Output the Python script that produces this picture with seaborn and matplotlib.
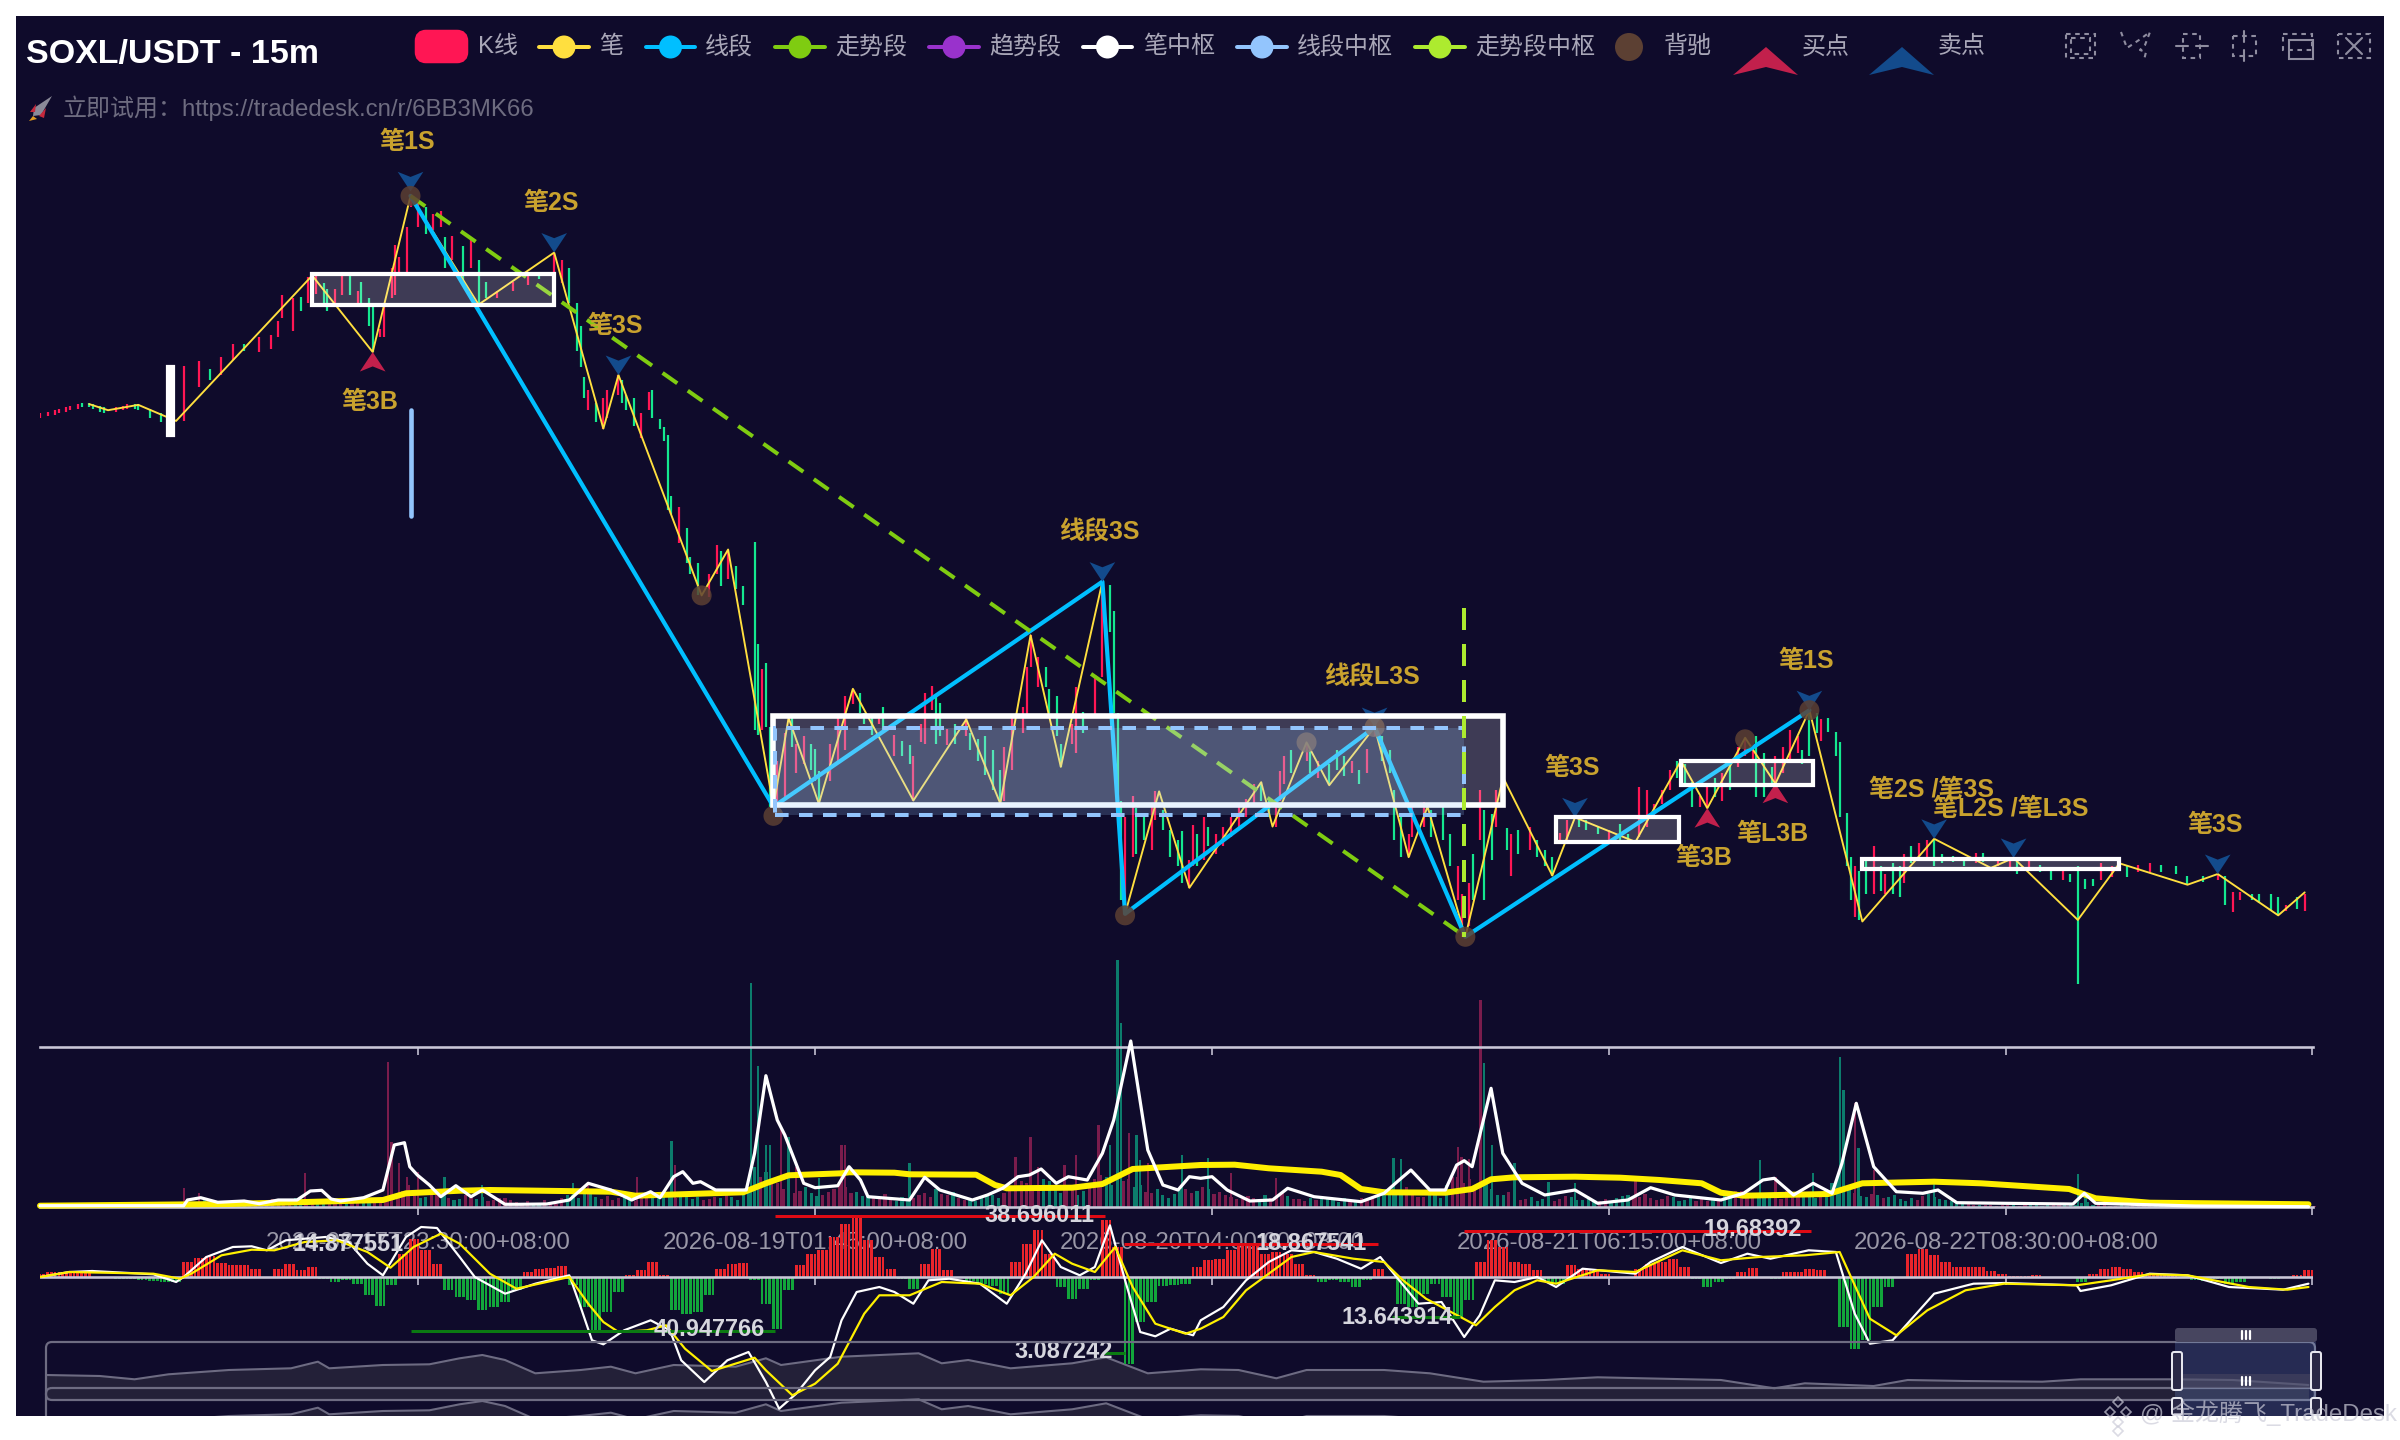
import numpy as np
import seaborn as sns
import matplotlib
matplotlib.use("Agg")
import matplotlib.pyplot as plt
from matplotlib.path import Path
from matplotlib.patches import Rectangle, Circle, Polygon, FancyBboxPatch
from matplotlib.lines import Line2D

# ---------- data ----------
title_text = "SOXL/USDT - 15m"
subtitle_text = "立即试用：https://tradedesk.cn/r/6BB3MK66"
tick_idx = [100, 205, 310, 415, 520, 601]
tick_labels = ["2026-08-17T23:30:00+08:00", "2026-08-19T01:45:00+08:00", "2026-08-20T04:00:00+08:00",
               "2026-08-21T06:15:00+08:00", "2026-08-22T08:30:00+08:00", ""]

candle_i = [0,2,4,5,7,8,10,11,13,14,16,17,20,22,23,25,26,29,32,35,38,42,45,48,51,54,58,61,
    63,64,67,69,71,73,75,76,78,80,82,84,85,87,88,90,91,93,94,95,
    97,98,100,102,104,106,107,109,112,114,116,118,121,125,129,132,136,138,140,142,
    143,144,145,147,149,150,153,154,155,157,159,161,162,164,165,166,167,169,171,172,
    174,177,179,180,182,184,186,189,190,191,192,193,195,197,199,200,202,204,205,206,
    209,211,213,215,217,218,220,222,223,226,228,230,231,233,234,236,237,238,240,242,
    245,246,248,250,252,254,255,257,260,261,262,264,266,267,269,270,273,274,276,279,
    281,283,284,285,286,287,289,290,292,294,295,297,299,301,302,304,305,306,308,309,
    311,313,315,317,319,321,323,325,327,328,329,331,335,336,338,341,343,345,347,349,
    351,353,355,357,358,360,362,363,366,368,371,373,375,376,378,379,381,382,384,385,
    387,388,389,391,394,396,398,400,402,404,407,409,412,415,418,420,423,425,427,429,
    431,433,435,437,439,441,443,445,447,449,451,453,454,456,458,459,461,463,465,466,
    468,470,471,473,475,476,478,479,480,481,483,485,487,488,490,492,493,495,497,499,
    501,503,506,509,512,514,518,521,523,526,529,532,535,537,539,541,543,545,548,550,
    552,555,558,561,565,568,572,576,578,580,582,585,587,590,592,594,597,599]
candle_low = [387,388,389,390,391,392,393,394,394,393,391,390,391,392,393,393,392,387,384,381,385,407,412,415,425,431,430,432,
    440,452,444,457,462,468,460,457,462,467,467,462,460,447,430,440,440,465,467,480,
    482,525,512,507,510,512,485,490,475,485,462,465,465,470,474,478,476,475,462,431,
    420,400,392,384,380,387,402,397,392,382,374,392,387,380,372,327,324,305,292,285,
    271,270,285,277,282,275,265,183,180,183,185,133,133,139,172,155,161,157,150,135,
    150,163,170,200,194,187,180,187,182,166,166,161,137,175,174,196,174,179,173,174,
    179,170,163,154,144,134,137,157,181,193,224,211,211,194,179,159,174,168,181,191,
    218,247,194,137,72,63,100,102,111,105,124,118,100,94,83,80,94,94,98,107,
    102,107,113,120,126,135,137,126,120,137,148,155,163,155,152,147,157,153,155,148,
    155,179,163,155,111,100,100,113,120,113,111,94,72,48,55,72,111,72,98,120,
    133,105,88,102,105,100,94,88,109,111,120,118,115,111,111,111,113,120,126,135,
    144,152,148,133,133,132,139,137,144,159,166,163,139,139,146,148,155,163,168,161,
    166,181,176,182,166,126,94,72,61,59,76,76,78,76,76,74,83,96,98,100,
    94,96,97,94,96,97,94,92,89,92,90,85,85,84,17,79,81,85,87,91,
    87,90,90,90,89,82,84,85,69,64,72,72,70,65,62,65,66,65]
candle_high = [390,391,392,393,394,395,396,397,397,396,395,394,394,395,396,396,396,393,390,388,421,424,419,427,435,435,440,441,
    450,467,465,466,479,481,475,471,471,480,481,470,476,465,460,445,460,485,500,492,
    512,532,529,525,520,522,505,506,499,505,490,476,470,476,481,482,495,490,485,462,
    447,414,405,397,400,405,415,412,402,400,390,404,405,386,381,376,336,329,315,296,
    292,285,304,300,301,290,277,306,239,223,227,185,163,181,191,174,179,174,171,156,
    174,192,205,210,207,194,192,192,198,180,176,173,166,187,207,212,205,201,184,187,
    191,181,177,179,170,157,172,193,198,224,245,231,224,210,205,174,187,211,195,219,
    280,278,261,194,137,126,140,132,128,135,143,131,118,111,117,98,121,115,126,120,
    115,120,126,133,138,148,149,137,133,156,166,170,174,170,163,161,170,166,163,157,
    171,192,179,170,144,126,115,133,136,131,134,115,94,76,83,102,144,131,128,144,
    152,119,115,118,120,111,105,100,116,124,126,124,120,118,122,115,146,144,135,144,
    157,163,161,149,140,146,152,155,161,172,178,172,179,168,159,166,172,183,179,170,
    196,194,190,191,182,175,129,100,94,91,98,107,94,89,96,94,102,107,109,111,
    112,102,101,100,103,103,100,100,98,98,95,91,91,89,94,86,86,96,94,97,
    94,95,96,95,94,88,88,89,88,77,77,76,76,76,74,69,74,76]
candle_up = [1,1,1,1,1,1,1,0,0,0,0,0,1,1,1,0,0,0,0,1,1,1,0,1,1,0,1,1,
    1,1,1,0,1,1,0,0,1,1,0,1,0,0,0,1,1,1,1,1,
    1,1,1,0,1,1,0,1,0,1,0,0,1,1,1,0,1,1,0,0,
    0,0,1,0,1,1,1,0,0,0,1,1,0,0,0,0,0,1,0,0,
    0,1,1,0,1,0,0,0,0,1,0,0,1,1,0,1,1,0,0,0,
    1,1,1,1,0,0,0,1,0,1,0,0,1,1,1,1,0,0,1,0,
    1,0,0,0,0,0,1,1,1,1,1,1,0,0,0,0,1,1,0,1,
    1,0,0,0,0,1,1,0,0,1,1,0,0,0,0,1,1,0,1,0,
    1,1,1,1,1,1,0,0,1,1,1,0,1,0,1,0,0,0,1,0,
    1,1,0,0,0,0,1,1,1,0,0,0,1,1,1,0,1,0,0,1,
    0,0,1,0,1,0,0,0,1,1,0,0,0,1,0,0,1,1,1,1,
    1,0,0,0,1,1,0,1,0,1,1,1,0,0,0,1,1,1,1,0,
    0,0,1,0,0,0,0,0,1,0,0,1,0,1,0,0,1,0,1,1,
    0,0,0,0,1,0,1,1,0,1,0,0,1,0,0,0,0,1,1,1,
    0,1,1,0,0,0,0,1,0,1,1,0,0,0,0,1,0,1]

pen_i = [13,18,26,36,72,88,98,116,136,149,153,175,182,194,198,206,215,231,245,254,262,270,281,287,296,304,
    323,326,335,341,353,362,367,377,387,400,406,422,434,441,451,459,468,482,501,516,522,539,550,568,576,592,599]
pen_p = [396,392,395.5,385,480,430,532,461,495,380,415,271,301,133,191,135,210,137,190,135,245,159,280,63,143,80,
    149,120,175,147,185,100,133,48,152,88,126,110,163,132,178,148,196,58,112,93,99.5,59,96,82,89,62,77]
seg_i = [98,194,281,287,353,377,468]
seg_p = [532,133,280,63,185,48,196]
trend_i = [98,377]
trend_p = [532,48]

sell_i = [98,136,153,281,353,406,468,501,522,576]
sell_p = [535,495,415,280,185,126,196,112,99.5,89]
sell_names = ["笔1S","笔2S","笔3S","线段3S","线段L3S","笔3S","笔1S","笔2S /笔3S","笔L2S /笔L3S","笔3S"]
buy_i = [88,441,459]
buy_p = [430,132,148]
buy_names = ["笔3B","笔3B","笔L3B"]
div_i = [98,175,194,287,335,353,377,451,468]
div_p = [532,271,127,62,175,185,48,177,196]

bi_hub_start = [33.9,72,194,401,434,482]
bi_hub_end = [35.3,136,387,433.6,469,550]
bi_hub_low = [376,461,134,110,147,92]
bi_hub_high = [420,481,192,126,163,99]
seg_hub_start = [194.3,98]
seg_hub_end = [376.6,98]
seg_hub_low = [127.4,323]
seg_hub_high = [184.4,392]
trend_hub_i = [376.6,376.6]
trend_hub_p = [263,48]

vol_peak_i = [38,42,70,92,93,95,97,100,107,117,141,145,158,167,168,188,190,192,193,196,198,200,206,212,213,230,258,262,264,271,
    274,280,283,285,286,288,290,291,293,302,309,315,327,358,360,375,376,378,381,382,384,390,399,406,422,455,459,469,476,477,480,481,485,501,539,541]
vol_peak_v = [19,14,34,145,65,44,30,35,30,22,24,24,30,66,42,224,141,62,62,80,70,40,29,62,62,44,50,70,40,42,
    52,82,62,247,184,74,72,47,44,52,49,34,29,49,48,60,50,48,207,144,62,44,25,24,30,47,30,34,150,117,104,59,37,27,33,15]
vol_base_v = [4,6,5,4,5,3,4,5,6,7, 6,8,7,6,5,7,6,5,8,9, 16,12,10,14,9,8,11,10,7,9, 5,6,4,5,9,12,14,10,11,9,
    8,12,10,14,9,11,10,8,9,10, 12,40,35,24,20,16,14,12,18,20, 15,12,9,8,10,9,14,18,12,9, 8,10,12,14,22,24,20,26,14,18,
    16,28,30,34,28,22,14,12,13,18, 16,18,15,10,8,9,12,10,11,8, 9,8,7,9,6,7,14,18,12,16, 10,12,22,30,28,22,18,12,9,8,
    6,9,8,10,7,5,8,9,12,10, 9,8,10,7,6,6,8,12,16,14, 10,12,16,10,12,14,24,28,14,10, 12,10,8,9,11,10,7,5,3,2,
    2,2,2,2,2,2,2,3,4,2, 2,1,1,2,1,1,1,2,1,1, 2,1,1,2,1,1,2,1,1]
vol_mid_v = [3,5,7,3,4,4,5,3,8,5, 9,6,5,8,4,6,8,7,6,12, 22,9,14,11,7,12,8,6,9,7, 3,4,7,3,12,9,16,8,7,11,
    6,9,14,10,13,8,7,10,12,7, 18,30,26,18,14,20,11,15,22,14, 11,9,13,6,8,12,10,13,15,7, 6,13,9,18,26,18,28,19,20,12,
    24,32,22,26,20,15,18,9,17,14, 20,13,12,8,11,7,9,14,8,6, 7,10,5,6,9,11,18,13,20,10, 14,9,30,24,20,26,12,15,7,10,
    8,6,11,7,9,6,6,11,9,13, 7,11,6,9,8,7,11,16,12,10, 14,8,12,14,9,18,30,20,11,13, 9,12,6,7,13,8,6,4,2,2,
    1,2,1,3,1,2,3,2,5,3, 1,2,2,1,1,2,1,1,2,1, 1,2,1,1,2,1,1,2,1]
vol5_i = [0,38,39,42.5,47,54,58,63,68,71.5,74.5,77,79.5,85.6,90.7,93.7,96.4,97.8,99.8,103,106,110,114,117,123,127,134,140,145,151,
    156.5,161.5,164,167.6,170,172.7,174.7,178.7,186.8,189,192,195,197,202,205,211,214,217,219,230,234,238,246.6,250.6,254.6,258.7,261.7,264.8,268.8,272,
    277,281,284,288.5,293,297,301,304,307,310,314,320,326,330,337,349.4,355.5,359.5,362.6,367.6,371.7,374.7,376.7,378.8,383.8,386.9,392,398,406,412,
    420,426,432.4,444.6,450.6,455.7,458.7,463.8,469,474,476.6,480.4,485,491,498,502,507,519.5,537.7,540.7,543.7,570,600]
vol5_v = [1.3,1.3,7,9.3,4.7,6,3.3,7,7,16,16.7,8,6,9.3,17,62,64.3,40.3,32,22,10.3,21.3,10.3,17,2.7,2.7,3,7,23.7,17,
    7,15.3,9.3,30.3,35.3,23.7,25.3,17,17,53.7,131.3,87,72,23.7,19.3,21.3,40.3,27,10.3,7,29.7,17,7,12,18.7,30.3,32,38,23.7,30.3,
    27,53.7,87,166,57,22,17,30.3,28.7,30.3,17,6,7,18.7,10.3,5.3,13.7,27,37,17,17,42,46.3,40.3,118.7,53.7,23.7,12,17,3.7,
    7,19.3,12,7,13.7,27,28.7,12,23.7,13.7,43.7,103.7,40.3,15.3,13.7,17,4.3,3.7,3,13.7,3.7,1,0.3]
vol60_i = [0,50,90.7,96.8,111,119,151,157.5,186,192,198,212,214,226,230,247.6,252.6,255.7,273,281,289,307,316,325,339,344,349.4,355.5,371.7,378.8,
    383.8,390,406,418,428.4,439.5,444.6,450.6,473,482,501,513.4,536.7,543.7,558,600]
vol60_v = [1.3,3,7,13.7,16.3,17,15.3,11.3,14.7,23.7,31.7,33.7,34.7,34.3,32.7,32.3,22,18.7,19.3,23,38,42,42.3,38.7,35.3,32,18,14.7,14.3,18,
    27.7,29.7,30.3,29.3,27,23.7,14.3,11.3,13,23.7,25.3,23.7,18,8.7,4.3,2.7]

hist_v = [3,5,5,5,5, -1,-1,-2,-2,-3,-4,-5,-5, 15,19,21,14,12,12,8, -1,8,13,7,10,-2,-5,-3,-7,-18,-29,-8, 23,38,27,13,
    -13,-20,-23,-33,-30,-25,-13, 5,8,9,11, -8,-30,-53,-35,-15, 2,7,15,2, -33,-37,-35,-18, 8,13,14, -3,-27,-52,-13,
    12,23,27,40,53,60,37,20,8, -2,-12, 13,28,7, -1,-4,-7,-9,-17, 15,33,47,23, -10,-22,-12,-3, 57,30,
    -87,-45,-25,-9,-8,-7, 10,17,18,27,32,32,23,25,23,13,2, -5,-3,-5,-10,-3, 8,0, -27,-30,-17,-7,-20,-40,-23,
    15,37,30,15,13,7, -5,-7, 12,8,7,3,-1,-1, 8,13,15,18,10, -2,-10,-5,-2, 5,9,-1,-2,5,5,8,7,0,
    -50,-72,-63,-30,-10,0, 23,28,22,15,10,10,10,6,3,1,1,2,0, -1,-1,-5, 3,8,10,8,5,3,3,3,
    -1,-3,-4,-2,-7,-5,-1,-1,-2,-1, 2,7]
dif_i = [0,7.7,13.8,30,36,38,44,51,56,60,65,70,75.5,81.6,86.6,90.7,96.8,100.8,105,111,115,123,131,140,143,146,149,154.5,161.5,166.6,
    169.6,175.7,181.8,187.4,192,195.5,200,205,209,212,216,222,226,231,235,240.5,248.6,255.7,260.7,265,270,275,279,283,287,291,295,299,305,
    307,313,319,325,331,337,343,349.4,354.5,359.5,364.6,370.7,376.7,380.8,384.8,390,396,401,408,422,426,434.4,444.6,451.6,457.7,467.8,475,480,484,490,
    501,511.4,519.5,538.7,539.7,547.8,558,568,579,593.3,600]
dif_v = [0,5,6,2.7,-5,0,20,30,30.7,26.7,36.7,38.3,40,35,13.3,1.7,40,50,49,20,0,-16.7,-6.7,1.7,-30,-63.3,-67.3,-53.3,-43.3,-53.3,
    -83.3,-105,-83.3,-75,-105,-131.7,-116.7,-93.3,-80,-43.3,-15,-10,-15,-26.7,-3.3,-1.7,-6.7,-26.7,3.3,36.7,10,1.7,10,51.7,-3.3,-55,-59.3,-51.7,-58.3,
    -43.3,-30,-3.3,15,26.7,25,18.3,8.3,20,-3.3,-26.7,-25,-60,-38.3,-3.3,-5,0,-10,8.3,3.3,15,30,14,23.3,18.3,26.7,25,-36.7,-66.7,-63.3,
    -16.7,-6.7,-6,-8.3,-14,-8.3,3.3,1.7,-10,-12.7,-6.7]
dea_i = [0,7.7,30,37,40,48,56,62,70,78.5,86.6,92.7,98.8,106,111,119,126,140,145,149,153,160.5,165.6,170.6,177.7,189,192,199,205,211,218,222,230,238.5,248.6,
    256.7,262.8,268.4,273,279,284.4,289,295,303,307,313,319,325,331,337,347.4,355.5,360.5,366.6,375.7,379.8,384.8,390,396,401,412,422,434.4,444.6,454.7,466.8,476,
    484,491,499.2,509.3,519.5,538.7,547.8,558,568,584.2,594.4,600]
dea_v = [0,5,3.3,-1.7,3.3,21.7,27.3,26.7,35,36.7,25,9.3,30,43.3,33.3,3.3,-11.7,0,-26.7,-45,-55,-53.3,-48.3,-71.7,-94,-80.7,-93.3,-118.3,-106.7,-86.7,-36.7,-18.3,-18.3,-5,-6.7,
    -18.3,0,23.3,13.3,5,30,-10,-46.7,-56.7,-51.7,-40,-13.3,3.3,20,25,18.3,15,-3.3,-21.7,-40,-48.3,-30,-13.3,-3.3,-6.7,6.7,5,26.7,16.7,20,21.7,25,
    -41.7,-58.3,-33.3,-13.3,-6.7,-8.3,-3.3,2.7,1.7,-10,-12.7,-10]

mark_red_start = [194.5,286.6,376.7]
mark_red_end = [281.6,353.9,468.4]
mark_red_v = [60.7,32.7,46]
mark_green_start = [98,281,357.5]
mark_green_end = [194.5,287,375.7]
mark_green_v = [-54,-76,-40]
macd_text = ["38.696011","14.877551","40.947766","3.087242","18.867541","13.643914","19.68392"]
macd_text_i = [264.4,81.4,177,270.9,336.3,359,453]
macd_text_v = [62,32.7,-52.7,-75,33,-40,47.7]

slider_i = [1.6,15.8,25,34,50,66.4,73.5,76.5,90.7,103,111,117,123,131,143,151,157.5,167.6,184,192,196,212,232.4,238.5,245.5,256.7,273,282,293,307,
    317,327,335,355.5,367.6,381.8,398,412,444.6,458.7,466.8,485,494,509,529.6,539.7,564,580,600]
slider_v = [25,24,20.7,25.7,30,31.7,38.3,31.7,35,35.7,41.7,45,40,26.7,30,33.3,26.7,35,33.3,41.7,35,43.3,46.7,36.7,40,31.7,36.7,42.7,26.7,30.7,
    30,21.7,30,30,26.7,18.3,20,22.7,20,11.7,16.7,14,20,19,18.3,20.7,20.7,20,15]

# ---------- theme ----------
BG = "#0F0B2B"
XMAX = 601.2
sns.set_theme(style="dark", rc={"axes.grid": False})
plt.rcParams["font.family"] = ["Liberation Sans", "Noto Sans CJK SC", "DejaVu Sans"]
fig = plt.figure(figsize=(24, 14.4), dpi=100, facecolor="white")
PX = 0.72

def place(y0, y1, z):
    a = fig.add_axes([40/2400, 1-y1/1440, 2273/2400, (y1-y0)/1440], zorder=z)
    a.patch.set_visible(False)
    a.set_xlim(0, XMAX)
    for s in a.spines.values():
        s.set_visible(False)
    a.set_yticks([]); a.set_xticks([])
    a.set_xlabel(""); a.set_ylabel("")
    return a

bg = fig.add_axes([16/2400, 1-1416/1440, 2368/2400, 1400/1440], zorder=-1, facecolor=BG)
bg.set_xticks([]); bg.set_yticks([])
for s in bg.spines.values():
    s.set_visible(False)

def line(a, x, y, **kw):
    sns.lineplot(x=x, y=y, ax=a, estimator=None, sort=False, legend=False, **kw)
    a.set_xlim(0, XMAX)
    a.set_xlabel(""); a.set_ylabel("")

# ---------- slider panes ----------
for y0, y1 in ((1342, 1400), (1388, 1446)):
    sl = place(y0, y1, 1)
    sl.set_ylim(0, 58)
    sl.fill_between(slider_i, slider_v, 0, color="#232038", lw=0, zorder=1)
    line(sl, slider_i, slider_v, color="#6d6b82", lw=1.5, zorder=2)
    sl.set_xticks([]); sl.set_yticks([])

# ---------- volume ----------
ax_v = place(1047, 1207, 2)
ax_v.set_ylim(0, 160)
RED_V, GREEN_V = "#7A1C4C", "#0C7C6C"
c_arr_i = np.array(candle_i); c_up = np.array(candle_up)
def vol_col(ix):
    k = np.clip(np.searchsorted(c_arr_i, ix), 0, len(c_up)-1)
    return [RED_V if c_up[j] else GREEN_V for j in k]
base_i = np.arange(36, 36+3*len(vol_base_v), 3)
mid_i = base_i + 1.5
ax_v.bar(base_i, vol_base_v, width=0.85, color=vol_col(base_i), lw=0, clip_on=False, zorder=1)
ax_v.bar(mid_i, vol_mid_v, width=0.85, color=vol_col(mid_i), lw=0, clip_on=False, zorder=1)
ax_v.bar(vol_peak_i, vol_peak_v, width=0.6, color=vol_col(np.array(vol_peak_i)), lw=0, clip_on=False, zorder=1)
line(ax_v, vol60_i, vol60_v, color="#FFF000", lw=6*PX, zorder=3, clip_on=False)
line(ax_v, vol5_i, vol5_v, color="white", lw=3.2*PX, zorder=4, clip_on=False)
AXC = "#C9C7D8"
for name in ("top", "bottom"):
    ax_v.spines[name].set_visible(True)
    ax_v.spines[name].set_color(AXC)
    ax_v.spines[name].set_linewidth(2.6*PX)
ax_v.set_xticks(tick_idx, tick_labels, color="#9A98A8", fontsize=24*PX)
ax_v.tick_params(axis="x", length=8*PX, width=1.6*PX, color=AXC, pad=12, bottom=True)
ax_v.vlines(tick_idx, 0.95, 1, transform=ax_v.get_xaxis_transform(), color=AXC, lw=1.6*PX)
ax_v.set_yticks([])

# ---------- MACD ----------
ax_m = place(1207, 1416, 3)
ax_m.set_ylim(-139, 70)
hist_i = np.arange(len(hist_v))*3
hist_col = ["#E9242B" if h >= 0 else "#12A63B" for h in hist_v]
for off in (-1, 0, 1):
    ax_m.bar(hist_i+off, hist_v, width=0.72, color=hist_col, lw=0, zorder=1)
ax_m.set_xlim(0, XMAX)
ax_m.axhline(0, color=AXC, lw=2.6*PX, zorder=2)
ax_m.vlines(tick_idx, -8, 0, color=AXC, lw=1.6*PX, zorder=2)
line(ax_m, dif_i, dif_v, color="white", lw=2.2*PX, zorder=3)
line(ax_m, dea_i, dea_v, color="#FFF000", lw=2.2*PX, zorder=4)
ax_m.hlines(mark_red_v, mark_red_start, mark_red_end, color="#E00A14", lw=3*PX, zorder=5)
ax_m.hlines(mark_green_v, mark_green_start, mark_green_end, color="#0B7A12", lw=3*PX, zorder=5)
for t, xi, yi in zip(macd_text, macd_text_i, macd_text_v):
    ax_m.text(xi, yi, t, color="#D6D6DE", fontsize=23.5*PX, fontweight="bold", ha="center", va="center", zorder=6)
ax_m.set_xticks([]); ax_m.set_yticks([])

# ---------- main ----------
ax = place(137.75, 1010.25, 4)
ax.set_ylim(0, 570)
up = np.array(candle_up, bool)
ci, cl, ch = np.array(candle_i), np.array(candle_low), np.array(candle_high)
ax.vlines(ci[up], cl[up], ch[up], color="#FF1654", lw=2.2*PX, zorder=2)
ax.vlines(ci[~up], cl[~up], ch[~up], color="#14E88F", lw=2.2*PX, zorder=2)
line(ax, pen_i, pen_p, color="#FFDF3F", lw=1.9*PX, zorder=3)
line(ax, seg_i, seg_p, color="#00BFFF", lw=4.2*PX, zorder=4)
line(ax, trend_i, trend_p, color="#7FCC11", lw=4*PX, linestyle=(0, (4.5, 3.2)), zorder=4)

SELL_M = Path(np.array([(0,0),(-12.5,19),(0,14),(12.5,19),(0,0)], float))
BUY_M = Path(np.array([(0,0),(-12.5,-19),(0,-14),(12.5,-19),(0,0)], float))
sns.scatterplot(x=sell_i, y=sell_p, marker=SELL_M, s=790, color="#134B8C", linewidth=0, edgecolor="none", ax=ax, zorder=5, legend=False, clip_on=False)
sns.scatterplot(x=buy_i, y=buy_p, marker=BUY_M, s=790, color="#C2204C", linewidth=0, edgecolor="none", ax=ax, zorder=5, legend=False, clip_on=False)
sns.scatterplot(x=div_i, y=div_p, s=(20*PX)**2, color="#5C4033", alpha=0.85, linewidth=0, edgecolor="none", ax=ax, zorder=6, legend=False)
ax.set_xlim(0, XMAX)
ax.set_xlabel(""); ax.set_ylabel("")

for x0, x1, lo, hi in zip(bi_hub_start, bi_hub_end, bi_hub_low, bi_hub_high):
    lw = (5.6 if x1-x0 > 100 else 4.2)*PX
    fill = "white" if x1-x0 < 3 else (1,1,1,0.2)
    ax.add_patch(Rectangle((x0, lo), x1-x0, hi-lo, facecolor=fill, edgecolor="white", lw=lw, zorder=7))
x0, x1, lo, hi = seg_hub_start[0], seg_hub_end[0], seg_hub_low[0], seg_hub_high[0]
ax.add_patch(Rectangle((x0, lo), x1-x0, hi-lo, facecolor=(0.576,0.773,0.992,0.2), edgecolor="#93C5FD", lw=4*PX,
                       linestyle=(0, (3.4, 2.6)), zorder=7))
ax.plot([seg_hub_start[1], seg_hub_end[1]], [seg_hub_low[1], seg_hub_high[1]], color="#93C5FD", lw=4.6*PX, zorder=7)
line(ax, trend_hub_i, trend_hub_p, color="#ADEB2F", lw=4*PX, linestyle=(0, (5.5, 3.5)), zorder=7)

LABEL = "#C9A22E"
for n, xi, yi in zip(sell_names, sell_i, sell_p):
    ax.annotate(n, (xi, yi), xytext=(-2.2, 35.5), textcoords="offset points", ha="center", va="center",
                color=LABEL, fontsize=25*PX, fontweight="bold", zorder=8)
for n, xi, yi in zip(buy_names, buy_i, buy_p):
    ax.annotate(n, (xi, yi), xytext=(-2.2, -36), textcoords="offset points", ha="center", va="center",
                color=LABEL, fontsize=25*PX, fontweight="bold", zorder=8)
ax.set_xticks([]); ax.set_yticks([])

# ---------- chrome in figure pixels ----------
c = fig.add_axes([0, 0, 1, 1], zorder=5)
c.patch.set_visible(False)
c.set_xlim(0, 2400); c.set_ylim(1440, 0); c.axis("off")

c.text(26, 55, title_text, color="white", fontsize=34*PX, fontweight="bold", va="center", ha="left", zorder=3)
c.text(63, 108, subtitle_text, color="#6E6C80", fontsize=24*PX, va="center", ha="left", zorder=3)
# rocket glyph
c.add_patch(Polygon([(52,96),(34,108),(33,116),(41,115)], closed=True, facecolor="#8A8A98", edgecolor="none", zorder=3))
c.add_patch(Polygon([(36,104),(30,112),(35,112)], closed=True, facecolor="#C6283C", edgecolor="none", zorder=3))
c.add_patch(Polygon([(46,108),(44,118),(39,116)], closed=True, facecolor="#C6283C", edgecolor="none", zorder=3))
c.add_patch(Polygon([(33,116),(29,121),(37,119)], closed=True, facecolor="#E09A20", edgecolor="none", zorder=3))

LEG_TXT = "#A9A7B8"
LEG_Y = 47
c.add_patch(FancyBboxPatch((421, 36), 41, 21, boxstyle="round,pad=0,rounding_size=5", mutation_aspect=1,
                           facecolor="#FF1654", edgecolor="#FF1654", lw=9, zorder=3))
c.text(478, LEG_Y, "K线", color=LEG_TXT, fontsize=24*PX, va="center", zorder=3)
leg_items = [(539,589,"#FFDF3F","笔",599),(646,695,"#00BFFF","线段",705),(775,825,"#7FCC11","走势段",835),
             (929,979,"#9932CC","趋势段",989),(1083,1132,"white","笔中枢",1143),(1237,1287,"#93C5FD","线段中枢",1297),
             (1415,1465,"#ADEB2F","走势段中枢",1475)]
for x0, x1, col, name, tx in leg_items:
    c.add_line(Line2D([x0, x1], [47, 47], color=col, lw=4*PX, zorder=3))
    c.add_patch(Circle(((x0+x1)/2, 47), 11.5, facecolor=col, edgecolor="none", zorder=4))
    c.text(tx, LEG_Y, name, color=LEG_TXT, fontsize=24*PX, va="center", zorder=3)
c.add_patch(Circle((1629, 47), 14, facecolor="#5C4033", edgecolor="none", zorder=4))
c.text(1664, LEG_Y, "背驰", color=LEG_TXT, fontsize=24*PX, va="center", zorder=3)
c.add_patch(Polygon([(1766,47),(1733,75),(1766,67),(1798,75)], closed=True, facecolor="#C2204C", edgecolor="none", zorder=3))
c.text(1802, LEG_Y, "买点", color=LEG_TXT, fontsize=24*PX, va="center", zorder=3)
c.add_patch(Polygon([(1902,47),(1869,75),(1902,67),(1934,75)], closed=True, facecolor="#134B8C", edgecolor="none", zorder=3))
c.text(1937, LEG_Y, "卖点", color=LEG_TXT, fontsize=24*PX, va="center", zorder=3)

# toolbox icons
ICON = "#8F8DA0"
def dbox(x0, y0, x1, y1):
    c.add_patch(Rectangle((x0, y0), x1-x0, y1-y0, fill=False, edgecolor=ICON, lw=1.5, linestyle=(0, (2.2, 2.2)), zorder=3))
dbox(2066, 34, 2095, 58); dbox(2071, 38, 2090, 54)
c.plot([2121,2127,2139,2150,2145,2140,2146,2144],[32,48,40,32,45,50,52,60], color=ICON, lw=1.5, ls=(0,(2.2,2.2)), zorder=3)
dbox(2183, 34, 2200, 58)
c.plot([2176,2188],[46,46], color=ICON, lw=1.5, zorder=3); c.plot([2196,2208],[46,46], color=ICON, lw=1.5, zorder=3)
dbox(2233, 36, 2256, 56)
c.plot([2244,2244],[31,42], color=ICON, lw=1.5, zorder=3); c.plot([2244,2244],[50,61], color=ICON, lw=1.5, zorder=3)
dbox(2283, 34, 2312, 50)
c.add_patch(Rectangle((2289, 40), 24, 19, fill=False, edgecolor=ICON, lw=1.5, zorder=3))
dbox(2338, 34, 2370, 58)
c.plot([2346,2362],[38,54], color=ICON, lw=1.5, zorder=3); c.plot([2362,2346],[38,54], color=ICON, lw=1.5, zorder=3)

# slider frames
FR = "#6E6C82"
c.add_patch(FancyBboxPatch((46, 1342), 2269, 58, boxstyle="round,pad=0,rounding_size=6", fill=False, edgecolor=FR, lw=2.2*PX, zorder=2))
c.add_patch(FancyBboxPatch((46, 1388), 2269, 58, boxstyle="round,pad=0,rounding_size=6", fill=False, edgecolor=FR, lw=2.2*PX, zorder=2))
c.add_patch(Rectangle((2175, 1342), 141, 74, facecolor=(0.53,0.69,0.96,0.2), edgecolor="none", zorder=2.2))
c.add_patch(Rectangle((0, 1416), 2400, 24, facecolor="white", edgecolor="none", zorder=2.5))
c.add_patch(FancyBboxPatch((2175, 1328), 142, 14, boxstyle="round,pad=0,rounding_size=3", facecolor="#47455F", edgecolor="none", zorder=3))
c.add_patch(FancyBboxPatch((2175, 1374), 142, 14, boxstyle="round,pad=0,rounding_size=3", facecolor="#47455F", alpha=0.6, edgecolor="none", zorder=3))
for yy in (1335, 1381):
    for dx in (-4, 0, 4):
        c.plot([2246+dx, 2246+dx], [yy-4, yy+4], color="white", lw=1.6, zorder=4)
for xx in (2177, 2316):
    for y0, y1 in ((1352, 1390), (1398, 1415)):
        c.add_patch(FancyBboxPatch((xx-5, y0), 10, y1-y0, boxstyle="round,pad=0,rounding_size=2", facecolor="#2A2846",
                                   edgecolor="#E6E6EE", lw=2*PX, zorder=4))

# watermark
WM = (0.80, 0.80, 0.85, 0.7)
for dx, dy in ((0,-11),(-8,-1),(8,-1),(0,9),(0,18)):
    c.plot(2118+dx, 1413+dy, marker="D", ms=5, mfc="none", mec=WM, mew=1.2, zorder=6)
c.text(2140, 1413, "@ 金龙腾飞_TradeDesk", color=WM, fontsize=24*PX, va="center", ha="left", zorder=6)

fig.savefig("out.png", dpi=100, facecolor="white")
